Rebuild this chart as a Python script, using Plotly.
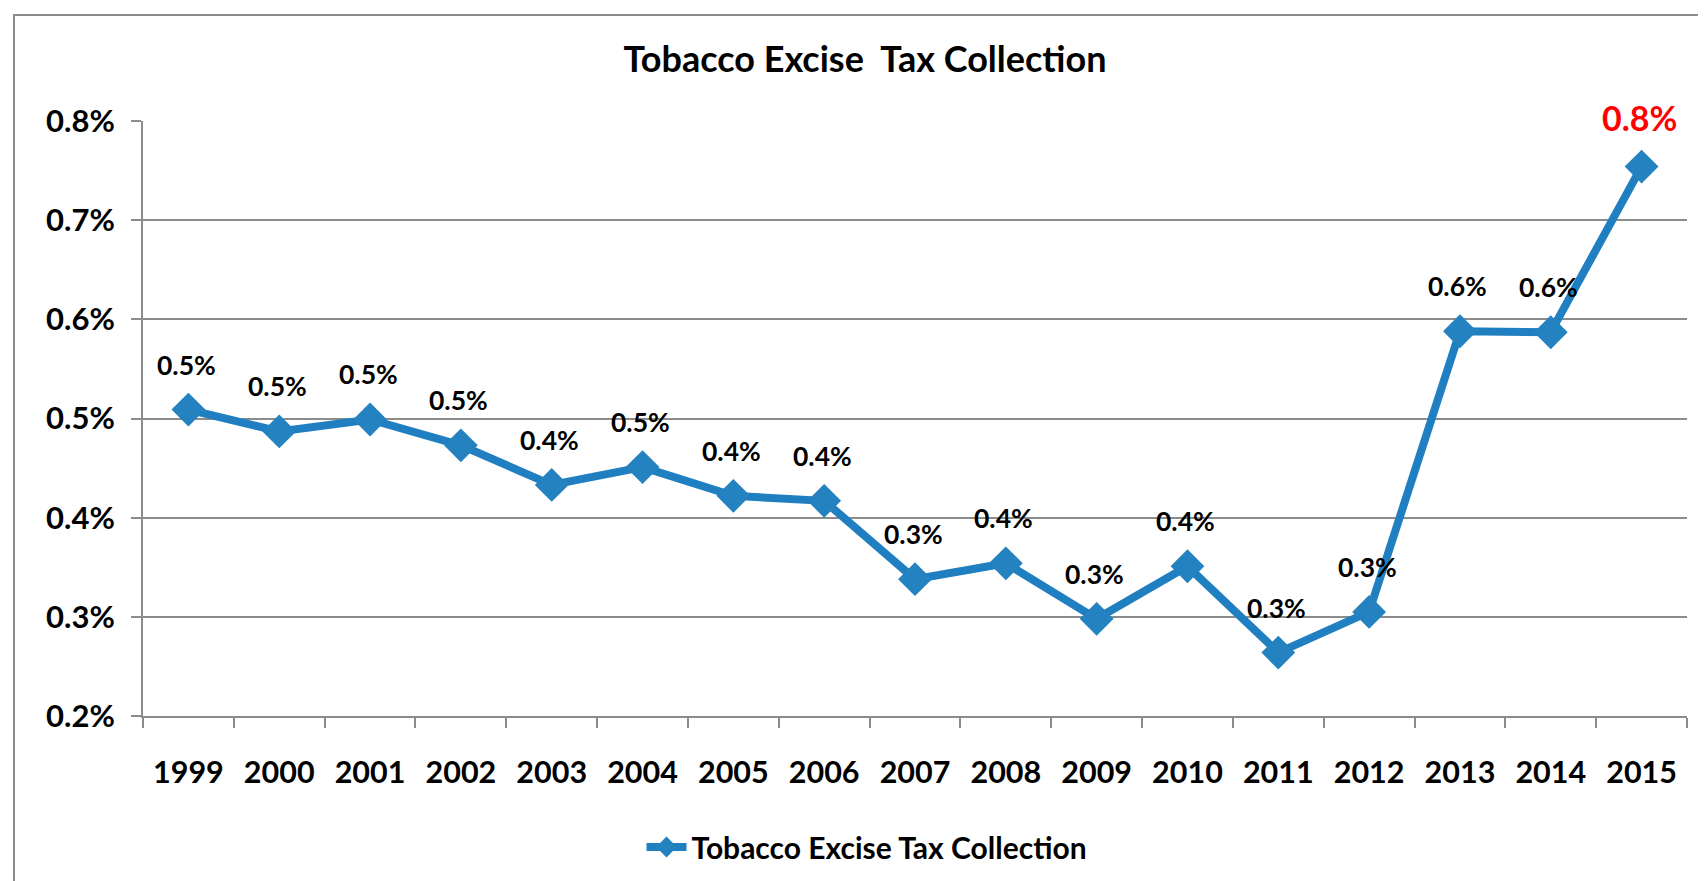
import plotly.graph_objects as go

years = ["1999", "2000", "2001", "2002", "2003", "2004", "2005", "2006", "2007",
         "2008", "2009", "2010", "2011", "2012", "2013", "2014", "2015"]
tax_share = [0.00509, 0.00487, 0.00499, 0.00473, 0.00433, 0.00451, 0.00422, 0.00417,
             0.00338, 0.00354, 0.00298, 0.00351, 0.00264, 0.00305, 0.00588, 0.00587, 0.00754]
series_name = "Tobacco Excise Tax Collection"
title_text = "Tobacco Excise  Tax Collection"

FONT = "Lato"
BLUE = "#1f7fc0"
GRID = "#8c8c8c"

fig = go.Figure()
fig.add_trace(go.Scatter(
    x=years, y=tax_share, name=series_name, mode="lines+markers",
    line=dict(color=BLUE, width=8),
    marker=dict(symbol="diamond", size=26, color="#2482c0"),
    cliponaxis=False,
))

annotations = []
n = len(years)
for i, v in enumerate(tax_share):
    last = i == n - 1
    annotations.append(dict(
        x=i, y=v, xref="x", yref="y", text=f"{v*100:.1f}%", showarrow=False,
        yshift=49 if last else 45, xshift=-2,
        font=dict(family=FONT, size=34 if last else 26.5,
                  color="#ff0000" if last else "#000000", weight="bold"),
    ))

W, H = 1706, 881
L, R, T, B = 135, 27, 113, 173
pw, ph = W - L - R, H - T - B

fig.update_layout(
    width=W, height=H,
    margin=dict(l=L, r=R, t=T, b=B),
    paper_bgcolor="white", plot_bgcolor="white",
    title=dict(text=title_text, x=(857 - L) / pw, xref="paper", xanchor="center",
               y=1 - 51 / H, yref="container", yanchor="middle",
               font=dict(family=FONT, size=36, color="#000000", weight="bold")),
    showlegend=True,
    legend=dict(orientation="h", x=(859 - L) / pw, xanchor="center",
                y=(708 - 839) / ph, yanchor="middle",
                font=dict(family=FONT, size=30, color="#000000", weight="bold"),
                itemwidth=40),
    annotations=annotations,
    shapes=[dict(type="rect", xref="paper", yref="paper",
                 x0=(6 - L) / pw, x1=(1730 - L) / pw,
                 y0=(708 - 900) / ph, y1=(708 - 7) / ph,
                 line=dict(color=GRID, width=2), fillcolor="rgba(0,0,0,0)", layer="below")],
    xaxis=dict(type="category", range=[-0.5, n - 0.5], showgrid=False,
               showline=True, linecolor=GRID, linewidth=2,
               ticks="outside", tickson="boundaries", ticklen=10, tickcolor=GRID, tickwidth=2,
               ticklabelstandoff=28, tickangle=0,
               tickfont=dict(family=FONT, size=30.5, color="#000000", weight="bold")),
    yaxis=dict(range=[0.002, 0.008], dtick=0.001, tickformat=".1%",
               showgrid=True, gridcolor=GRID, gridwidth=2,
               showline=True, linecolor=GRID, linewidth=2, zeroline=False,
               ticks="outside", ticklen=10, tickcolor=GRID, tickwidth=2,
               ticklabelstandoff=10,
               tickfont=dict(family=FONT, size=31, color="#000000", weight="bold")),
)

fig.write_html("out.html")
